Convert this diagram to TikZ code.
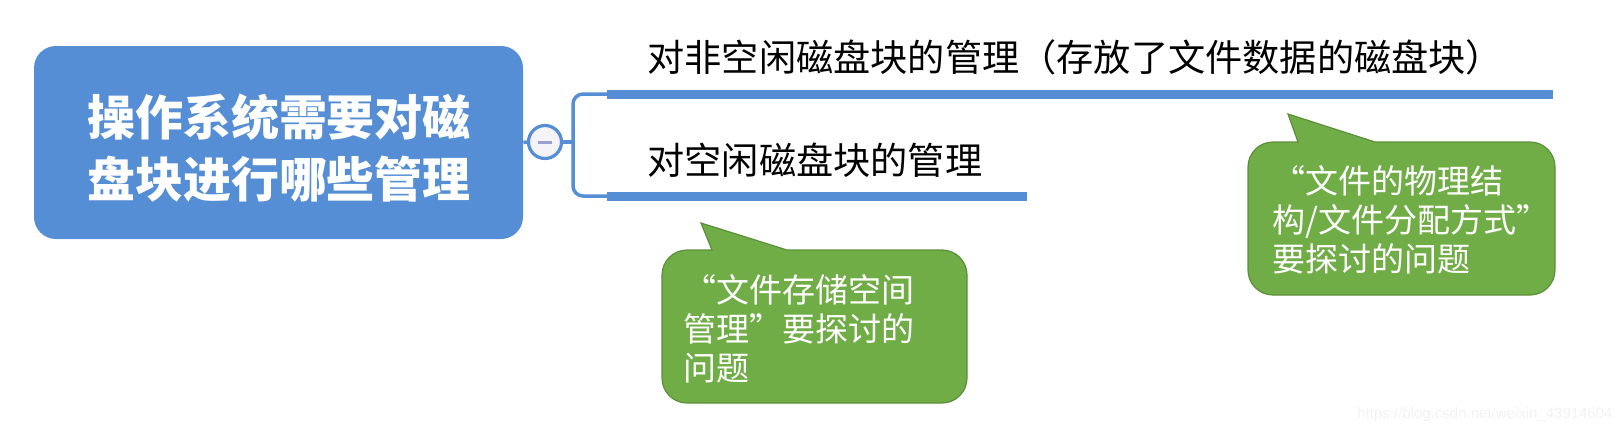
\documentclass[tikz,border=0pt]{standalone}
\usepackage{fontspec}
\newfontfamily\cjk{Noto Sans CJK SC}
\newfontfamily\wm{Liberation Sans}
\definecolor{mblue}{HTML}{558ED5}
\definecolor{mgreen}{HTML}{70AD47}
\definecolor{dgreen}{HTML}{5B8F3A}
\definecolor{cfill}{HTML}{F4F4F8}
\definecolor{minus}{HTML}{9AA0D0}
\tikzset{
  mainbox/.style={fill=mblue, draw=none},
  branch/.style={draw=mblue, line width=4.5pt},
  conn/.style={draw=mblue, line width=1.75pt},
  topic/.style={font=\cjk\fontsize{18.6}{22}\selectfont, text=black, anchor=west, inner sep=0pt},
  callout/.style={fill=mgreen, draw=dgreen, line width=0.6pt},
  calltext/.style={font=\cjk\fontsize{16.5}{19.5}\selectfont, text=white, align=left, anchor=west, inner sep=0pt},
}
\begin{document}
\begin{tikzpicture}[x=0.5pt, y=-0.5pt]
\useasboundingbox (0,0) rectangle (1623,435);
% main box
\path[mainbox, rounded corners=11pt] (34,46) rectangle (523,239);
\node (main) [minimum width=244.5pt, minimum height=96.5pt, inner sep=0pt] at (278.5,142.5) {};
\node (maintext) [font=\cjk\bfseries\fontsize{24}{31}\selectfont, text=white, align=center, inner sep=0pt] at (279,148) {操作系统需要对磁\\盘块进行哪些管理};
% collapse circle
\node (circ) [circle, draw=mblue, fill=cfill, line width=1.6pt, minimum size=16.5pt, inner sep=0pt] at (545,142) {};
\draw[draw=minus, line width=1.5pt] ([xshift=-3.7pt]circ.center) -- ([xshift=3.7pt]circ.center);
\draw[conn] (main.east) -- (circ.west);
% bracket
\coordinate (bt) at (607,94);
\coordinate (bb) at (607,196);
\coordinate (bj) at (573,142);
\draw[conn] (circ.east) -- (bj);
\draw[conn, rounded corners=5pt] (bt) -- (573,94) -- (573,196) -- (bb);
% branch lines
\coordinate (te) at (1553,94);
\coordinate (be) at (1027,196);
\draw[branch] (bt) -- (te);
\draw[branch] (bb) -- (be);
% topics
\node (t1) [topic] at (647,57) {对非空闲磁盘块的管理（存放了文件数据的磁盘块）};
\node (t2) [topic] at (647,160) {对空闲磁盘块的管理};
% callout 1
\path[callout] (712,250) -- (701,223) -- (787,250) [rounded corners=12.5pt] -- (967,250) -- (967,403) -- (662,403) -- (662,250) [sharp corners] -- cycle;
\node (c1) [calltext] at (683,329) {“文件存储空间\\管理”要探讨的\\问题};
% callout 2
\path[callout] (1298,142) -- (1288,114) -- (1375,142) [rounded corners=12.5pt] -- (1555,142) -- (1555,295) -- (1248,295) -- (1248,142) [sharp corners] -- cycle;
\node (c2) [calltext] at (1272,220) {“文件的物理结\\构/文件分配方式”\\要探讨的问题};
% watermark
\node (wmk) [font=\wm\fontsize{7.5}{9}\selectfont, text=black!5, anchor=east, inner sep=0pt] at (1613,415) {https://blog.csdn.net/weixin\_43914604};
\end{tikzpicture}
\end{document}
